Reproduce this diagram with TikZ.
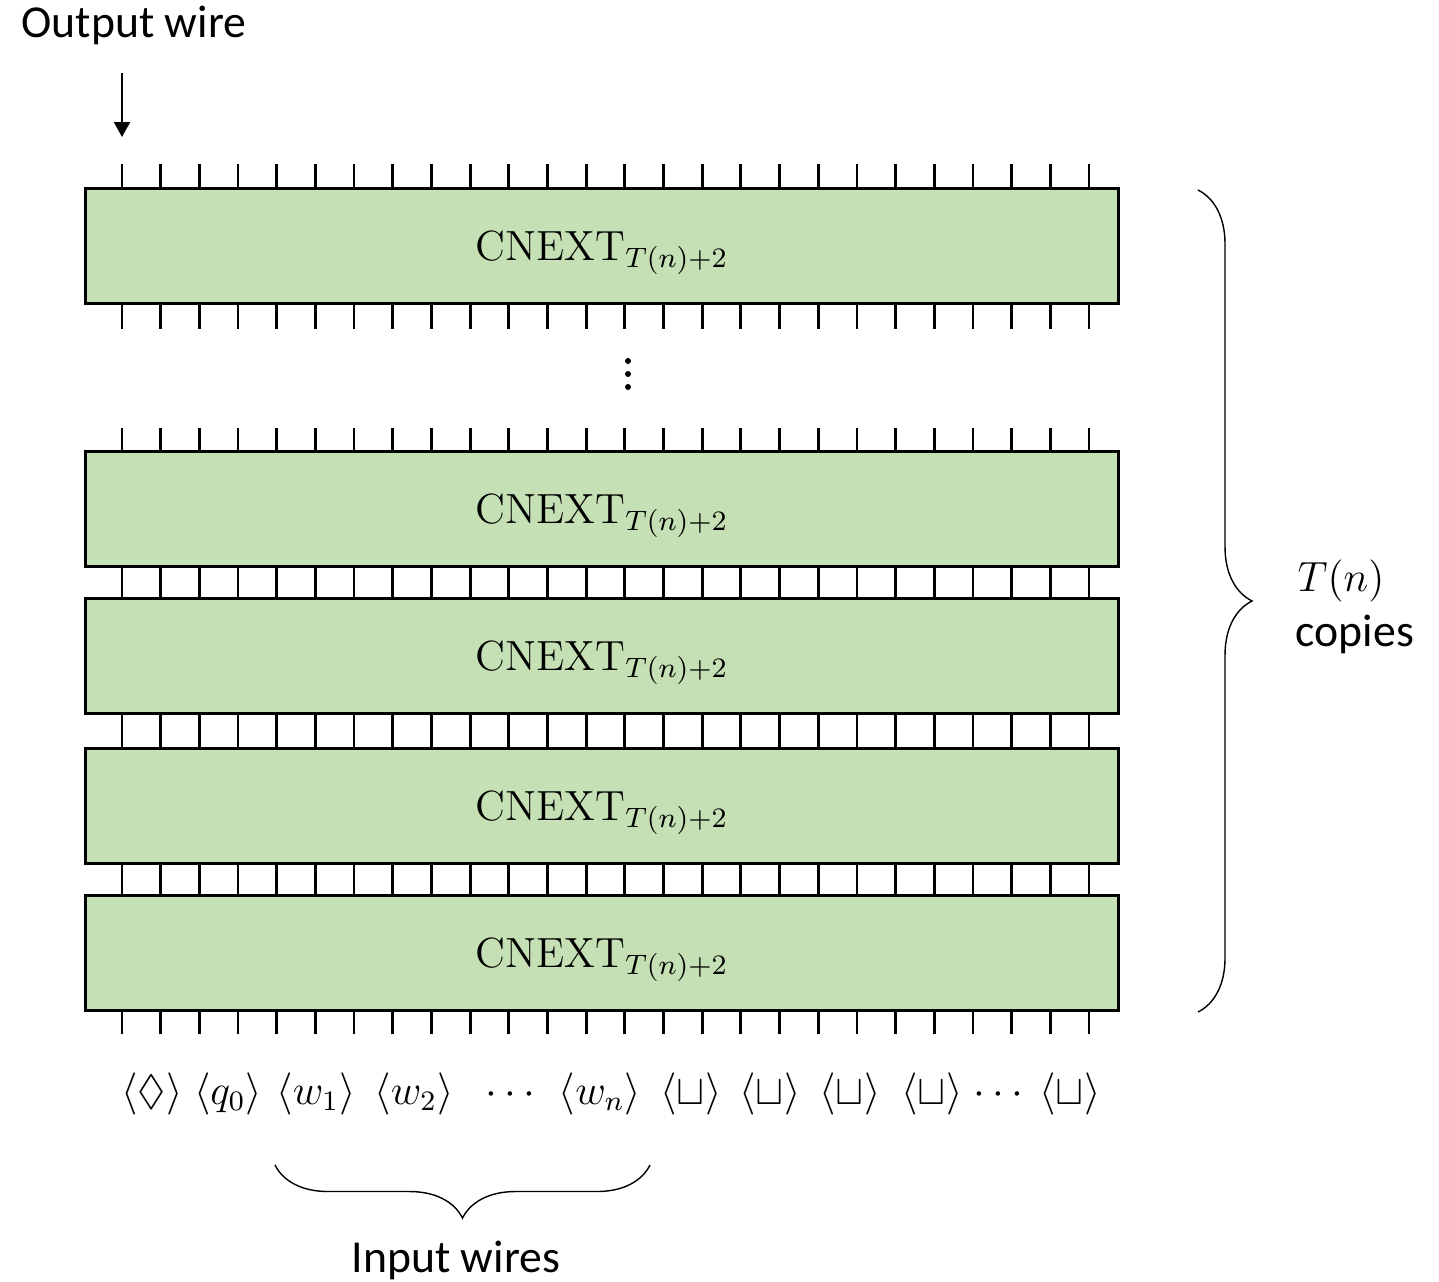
\documentclass[tikz,border=0pt]{standalone}
\usepackage{amsmath,amssymb}
\usepackage{fontspec}
\usetikzlibrary{arrows.meta,decorations.pathreplacing}
\newfontfamily\labelfont{Carlito}
\definecolor{cnextgreen}{HTML}{C5E0B4}

\begin{document}
\begin{tikzpicture}[x=0.01cm,y=-0.01cm,
    cnext/.style={draw,line width=0.8pt,fill=cnextgreen,minimum width=10.33cm,minimum height=1.15cm,
      inner sep=0pt,text height=8.5pt,text depth=0pt,font=\fontsize{12}{15}\selectfont},
    wire/.style={line width=0.8pt},
    lbl/.style={font=\labelfont\fontsize{13}{15}\selectfont,inner sep=0pt},
    tape/.style={anchor=base,font=\fontsize{12}{15}\selectfont},
    brc/.style={decorate,decoration={brace,amplitude=0.54cm},line width=0.4pt}]
  \useasboundingbox (0,0) rectangle (1439,1281);

  % wires
  \foreach \ya/\yb in {164/189,304/329,428/452,567/599,714/749,864/896,1010/1034}{
    \foreach \i in {0,...,25}{
      \draw[wire] ({122+38.68*\i},\ya) -- ({122+38.68*\i},\yb);
    }
  }

  \node[cnext] (b1) at (602,246) {$\mathrm{CNEXT}_{T(n)+2}$};
  \node[cnext] (b2) at (602,509) {$\mathrm{CNEXT}_{T(n)+2}$};
  \node[cnext] (b3) at (602,656) {$\mathrm{CNEXT}_{T(n)+2}$};
  \node[cnext] (b4) at (602,806) {$\mathrm{CNEXT}_{T(n)+2}$};
  \node[cnext] (b5) at (602,953) {$\mathrm{CNEXT}_{T(n)+2}$};
  \foreach \y in {361,374,387}{
    \fill (628,\y) circle[radius=0.03cm];
  }

  \node[lbl,anchor=base west] (outlbl) at (21,37) {Output wire};
  \coordinate (owtail) at (122,73);
  \coordinate (owhead) at (122,137);
  \draw[line width=0.6pt,-{Triangle[length=0.15cm,width=0.16cm]}] (owtail) -- (owhead);

  \foreach \x/\s [count=\k] in {152/\langle\Diamond\rangle,228/\langle q_0\rangle,316/\langle w_1\rangle,
      414/\langle w_2\rangle,514/\cdots,600/\langle w_n\rangle,691/\langle\sqcup\rangle,770/\langle\sqcup\rangle,
      850/\langle\sqcup\rangle,932/\langle\sqcup\rangle,1002/\cdots,1070/\langle\sqcup\rangle}{
    \node[tape] (t\k) at (\x,1104) {$\s$};
  }

  \coordinate (rbtop) at (1198,190);
  \coordinate (rbbot) at (1198,1012);
  \draw[brc] (rbtop) -- (rbbot);
  \node[lbl,anchor=base west] (tnlbl) at (1297,591) {$T(n)$};
  \node[lbl,anchor=base west] (copieslbl) at (1295,646) {copies};

  \coordinate (ibright) at (650,1165);
  \coordinate (ibleft) at (275,1165);
  \draw[brc,decoration={amplitude=0.53cm}] (ibright) -- (ibleft);
  \node[lbl,anchor=base] (inlbl) at (456,1272) {Input wires};
\end{tikzpicture}
\end{document}
